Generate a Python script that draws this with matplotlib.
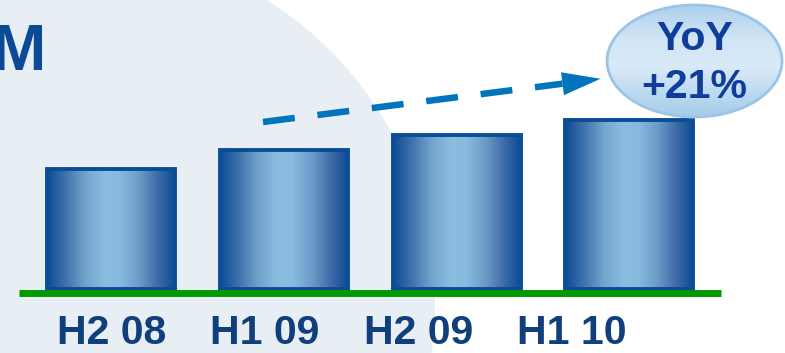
import numpy as np
import matplotlib
matplotlib.use("Agg")
import matplotlib.pyplot as plt
from matplotlib.colors import LinearSegmentedColormap
from matplotlib.patches import Circle, Ellipse

plt.rcParams['font.family'] = ['Liberation Sans', 'DejaVu Sans']

# Half-year figures (relative units)
periods = ["H2 08", "H1 09", "H2 09", "H1 10"]
values = [120, 139, 154, 169]
growth_label = "YoY\n+21%"

W, H = 785, 353
fig = plt.figure(figsize=(W / 100, H / 100), dpi=100)

# background layer in pixel coordinates
bg = fig.add_axes([0, 0, 1, 1], zorder=0)
bg.set_xlim(0, W)
bg.set_ylim(H, 0)
bg.axis('off')
bg.add_patch(Circle((76, 304), 359, color='#E7EFF5', lw=0))
bg.text(46, 70, "M", ha='right', va='baseline', fontsize=47, fontweight='bold',
        color='#0B4A94')

# chart layer: 1 x-unit = one bar slot (173 px), 1 y-unit = 1 px
ax = fig.add_axes([0, 0, 1, 1], zorder=1)
ax.patch.set_alpha(0)
xlim = (-0.639, 3.899)
ylim = (-64, 289)

x = np.arange(len(periods))
bar_w = 0.74
bars = ax.bar(x, values, width=bar_w, color='none', edgecolor='#0B4C97',
              linewidth=2.8, zorder=3)

bar_cmap = LinearSegmentedColormap.from_list(
    "barshade",
    [(0.0, '#0B4C97'), (0.15, '#4274AC'), (0.30, '#73A4CE'), (0.45, '#8BBDE0'),
     (0.57, '#88BADF'), (0.72, '#6B9AC7'), (0.87, '#3C69A5'), (1.0, '#0A4A94')])
grad = np.linspace(0, 1, 256).reshape(1, -1)
for rect in bars:
    x0, w, h = rect.get_x(), rect.get_width(), rect.get_height()
    im = ax.imshow(grad, cmap=bar_cmap, extent=[x0, x0 + w, 0, h],
                   aspect='auto', zorder=2)
    im.set_clip_path(rect)

# green baseline
ax.hlines(-3.5, x[0] - 0.529, x[-1] + 0.529, colors='#009A00', linewidth=5,
          zorder=4)

# period labels sit on a slightly tighter pitch than the bars
label_x = x * 0.885 + 0.009
for xi, lab in zip(label_x, periods):
    ax.text(xi, -55, lab, ha='center', va='baseline', fontsize=29.5,
            fontweight='bold', color='#113F7C')

# dashed trend arrow
sx = 173.0  # px per x-unit
start = (0.8815, 167)
base = (2.6127, 205.3)
tip = (2.8324, 210.2)
ax.plot([start[0], base[0]], [start[1], base[1]], color='#0074BC',
        linewidth=4.7, dashes=(4.9, 3.5), solid_capstyle='butt', zorder=5)
dx, dy = (tip[0] - base[0]) * sx, tip[1] - base[1]
L = np.hypot(dx, dy)
ux, uy = dx / L, dy / L
hw = 11.5
head_x = [tip[0], base[0] - uy * hw / sx, base[0] + uy * hw / sx]
head_y = [tip[1], base[1] + ux * hw, base[1] - ux * hw]
ax.fill(head_x, head_y, color='#0074BC', lw=0, zorder=5)

# growth bubble
ell_c, ell_w, ell_h = (3.376, 228), 175 / sx, 112
ell = Ellipse(ell_c, ell_w, ell_h, facecolor='none', edgecolor='#9CC4E4',
              linewidth=2, zorder=7)
ax.add_patch(ell)
bub_cmap = LinearSegmentedColormap.from_list(
    "bubble", [(0.0, '#A4CBEA'), (0.45, '#D9EAF8'), (0.7, '#D1E5F6'), (1.0, '#ADD0ED')])
vgrad = np.linspace(0, 1, 256).reshape(-1, 1)
bim = ax.imshow(vgrad, cmap=bub_cmap, origin='lower',
                extent=[ell_c[0] - ell_w / 2, ell_c[0] + ell_w / 2,
                        ell_c[1] - ell_h / 2, ell_c[1] + ell_h / 2],
                aspect='auto', zorder=6)
bim.set_clip_path(ell)
yoy, pct = growth_label.split("\n")
ax.text(ell_c[0], 239, yoy, ha='center', va='baseline', fontsize=29.5,
        fontweight='bold', color='#103C9C', zorder=8)
ax.text(ell_c[0], 191, pct, ha='center', va='baseline', fontsize=29.5,
        fontweight='bold', color='#103C9C', zorder=8)

ax.set_xlim(*xlim)
ax.set_ylim(*ylim)
ax.axis('off')

fig.savefig("out.png", dpi=100)
